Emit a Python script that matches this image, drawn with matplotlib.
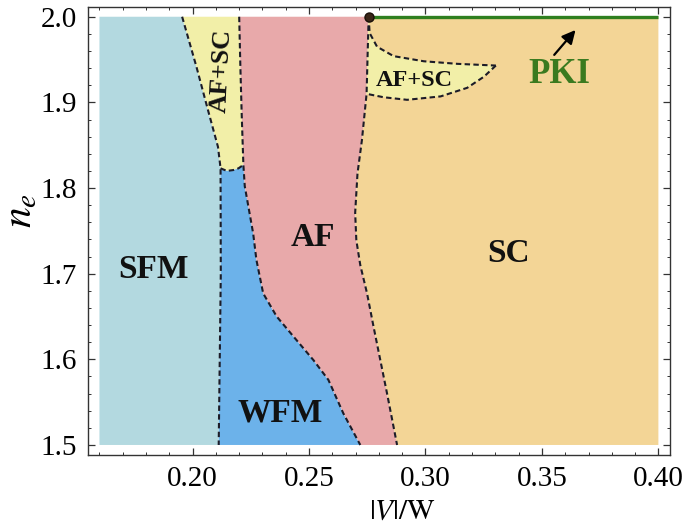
import numpy as np
import matplotlib.pyplot as plt

plt.rcParams['font.family'] = 'Liberation Serif'
plt.rcParams['mathtext.fontset'] = 'stix'

# phase boundaries: x = |V|/W, y = n_e, listed from top (n_e = 2) downwards
sfm_x = [0.1955, 0.2016, 0.2066, 0.2109, 0.2120, 0.2121, 0.2112]
sfm_ne = [2.0, 1.942, 1.891, 1.848, 1.823, 1.70, 1.50]
n_sfm_top = 5  # points down to the AF+SC / WFM junction

mix_x = [0.2120, 0.2147, 0.2175, 0.2197, 0.2218]
mix_ne = [1.823, 1.820, 1.821, 1.823, 1.827]

af_x = [0.2200, 0.2205, 0.2211, 0.2218, 0.2224, 0.2260, 0.2274, 0.2303,
        0.2361, 0.2432, 0.2519, 0.2583, 0.2647, 0.2720]
af_ne = [2.0, 1.942, 1.884, 1.827, 1.802, 1.747, 1.716, 1.677,
         1.650, 1.627, 1.599, 1.576, 1.537, 1.50]
n_af_top = 4

sc_x = [0.2756, 0.2752, 0.2747, 0.2727, 0.2708, 0.2698, 0.2703, 0.2720,
        0.2749, 0.2777, 0.2806, 0.2835, 0.2878]
sc_ne = [2.0, 1.961, 1.910, 1.856, 1.817, 1.771, 1.739, 1.710,
         1.677, 1.638, 1.599, 1.560, 1.50]
n_sc_pocket = 3

pocket_top_x = [0.2756, 0.2760, 0.2792, 0.2863, 0.2993, 0.3137, 0.3302]
pocket_top_ne = [2.0, 1.981, 1.965, 1.954, 1.948, 1.945, 1.943]
pocket_bot_x = [0.3302, 0.3251, 0.3179, 0.3065, 0.2921, 0.2820, 0.2747]
pocket_bot_ne = [1.943, 1.930, 1.917, 1.907, 1.903, 1.906, 1.910]

pki_x = [0.2756, 0.40]
pki_ne = [2.0, 2.0]

v_min, v_max = 0.16, 0.40
ne_min, ne_max = 1.5, 2.0

c_sfm = '#b3d9e0'
c_wfm = '#6cb2ea'
c_af = '#e8a9aa'
c_mix = '#f2efa8'
c_sc = '#f3d596'
c_line = '#1c1c28'
c_green = '#2f7f1f'

fig = plt.figure(figsize=(6.87, 5.29), dpi=100)
ax = fig.add_axes([0.1285, 0.1399, 0.8468, 0.8474])

sfm_x, sfm_ne = np.array(sfm_x), np.array(sfm_ne)
af_x, af_ne = np.array(af_x), np.array(af_ne)
sc_x, sc_ne = np.array(sc_x), np.array(sc_ne)
mix_x, mix_ne = np.array(mix_x), np.array(mix_ne)

# SFM
ax.fill(np.r_[v_min, v_min, sfm_x], np.r_[ne_min, ne_max, sfm_ne], color=c_sfm, lw=0)
# AF+SC (left strip)
ax.fill(np.r_[sfm_x[:n_sfm_top], mix_x, af_x[:n_af_top][::-1]],
        np.r_[sfm_ne[:n_sfm_top], mix_ne, af_ne[:n_af_top][::-1]], color=c_mix, lw=0)
# WFM
ax.fill(np.r_[sfm_x[n_sfm_top - 1:], af_x[n_af_top - 1:][::-1], mix_x[::-1]],
        np.r_[sfm_ne[n_sfm_top - 1:], af_ne[n_af_top - 1:][::-1], mix_ne[::-1]], color=c_wfm, lw=0)
# AF
ax.fill(np.r_[af_x, sc_x[::-1]], np.r_[af_ne, sc_ne[::-1]], color=c_af, lw=0)
# SC
ax.fill(np.r_[sc_x, v_max, v_max], np.r_[sc_ne, ne_min, ne_max], color=c_sc, lw=0)
# AF+SC pocket
ax.fill(np.r_[pocket_top_x, pocket_bot_x, sc_x[:n_sc_pocket][::-1]],
        np.r_[pocket_top_ne, pocket_bot_ne, sc_ne[:n_sc_pocket][::-1]], color=c_mix, lw=0)

dash = dict(color=c_line, lw=1.5, dashes=(2.6, 1.6))
for xs, ys in [(sfm_x, sfm_ne), (mix_x, mix_ne), (af_x, af_ne), (sc_x, sc_ne),
               (pocket_top_x, pocket_top_ne), (pocket_bot_x, pocket_bot_ne)]:
    ax.plot(xs, ys, **dash)

ax.plot(pki_x, pki_ne, color=c_green, lw=2.4, solid_capstyle='butt')
ax.plot(pki_x[0], pki_ne[0], 'o', ms=6.5, color='#3a2618', mec='#1a1008')

ax.annotate('', xy=(0.3652, 1.987), xytext=(0.3545, 1.953),
            arrowprops=dict(arrowstyle='-|>', color='black', lw=1.6, mutation_scale=20))

lab = dict(fontweight='bold', ha='center', va='center', color='#111111')
ax.text(0.1830, 1.705, 'SFM', fontsize=24, **lab)
ax.text(0.2517, 1.742, 'AF', fontsize=24, **lab)
ax.text(0.3355, 1.724, 'SC', fontsize=24, **lab)
ax.text(0.2374, 1.537, 'WFM', fontsize=24, **lab)
ax.text(0.2123, 1.937, 'AF+SC', fontsize=19, rotation=87, **lab)
ax.text(0.2954, 1.926, 'AF+SC', fontsize=17.5, **lab)
ax.text(0.3576, 1.933, 'PKI', fontsize=25, fontweight='bold', ha='center', va='center', color='#3a7a1f')

ax.set_xlim(0.1552, 0.4050)
ax.set_ylim(1.4883, 2.0117)
ax.set_xticks([0.20, 0.25, 0.30, 0.35, 0.40])
ax.set_xticklabels(['0.20', '0.25', '0.30', '0.35', '0.40'])
ax.set_yticks([1.5, 1.6, 1.7, 1.8, 1.9, 2.0])
ax.set_yticklabels(['1.5', '1.6', '1.7', '1.8', '1.9', '2.0'])
ax.set_xticks(np.arange(0.16, 0.405, 0.01), minor=True)
ax.set_yticks(np.arange(1.5, 2.005, 0.02), minor=True)
ax.tick_params(which='both', direction='in', top=True, right=True, color='#333333')
ax.tick_params(which='major', length=5, width=0.9, labelsize=21, pad=8)
ax.tick_params(which='minor', length=2.5, width=0.7)
for s in ax.spines.values():
    s.set_color('#333333')
    s.set_linewidth(1.0)

ax.set_xlabel(r'$|V|/\mathrm{W}$', fontsize=21, va='center')
ax.xaxis.set_label_coords(0.539, -0.127)
ax.set_ylabel(r'$n_e$', fontsize=30, va='center')
ax.yaxis.set_label_coords(-0.115, 0.545)

fig.savefig('out.png', dpi=100)
plt.close(fig)
